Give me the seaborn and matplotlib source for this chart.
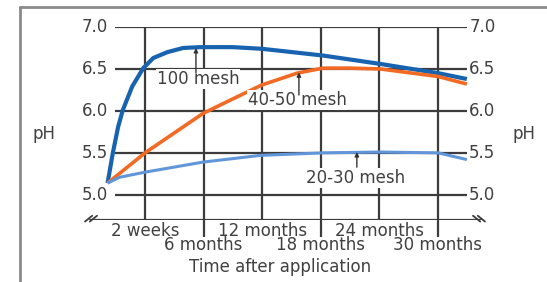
import numpy as np
import pandas as pd
import seaborn as sns
from matplotlib import pyplot as plt
from matplotlib.lines import Line2D
from matplotlib.transforms import blended_transform_factory

# grid positions on the (broken, schematic) time axis
positions = [1, 2, 3, 4, 5, 6]
time_labels = ['2 weeks', '6 months', '12 months', '18 months', '24 months', '30 months']
ph_ticks = [5.0, 5.5, 6.0, 6.5, 7.0]

# curves (x in grid units, y in pH)
mesh100_x = [0.36, 0.45, 0.54, 0.62, 0.78, 0.97, 1.14, 1.38, 1.65, 1.94, 2.5, 3.0, 4.04, 5.02, 6.01, 6.5]
mesh100_y = [5.14, 5.5, 5.81, 6.01, 6.29, 6.51, 6.63, 6.70, 6.75, 6.76, 6.76, 6.74, 6.66, 6.56, 6.45, 6.38]

mesh4050_x = [0.36, 1.0, 1.99, 2.58, 3.0, 3.6, 4.04, 4.49, 5.02, 6.01, 6.5]
mesh4050_y = [5.14, 5.5, 5.97, 6.17, 6.31, 6.45, 6.51, 6.51, 6.50, 6.41, 6.32]

mesh2030_x = [0.36, 0.57, 1.0, 1.99, 2.97, 4.04, 5.02, 6.01, 6.5]
mesh2030_y = [5.14, 5.21, 5.27, 5.39, 5.47, 5.50, 5.51, 5.50, 5.42]

df = pd.concat([
    pd.DataFrame({'t': mesh100_x, 'pH': mesh100_y, 'mesh': '100 mesh'}),
    pd.DataFrame({'t': mesh4050_x, 'pH': mesh4050_y, 'mesh': '40-50 mesh'}),
    pd.DataFrame({'t': mesh2030_x, 'pH': mesh2030_y, 'mesh': '20-30 mesh'}),
])

sns.set_theme(style='white')
plt.rcParams['font.family'] = ['DejaVu Sans']
txt = '#404040'
grid_c = '#3c3c3c'
fs = 12

fig = plt.figure(figsize=(5.47, 2.82), dpi=100)
ax = fig.add_axes([85 / 547, 1 - 220 / 282, 400 / 547, 193 / 282])
ax.set_xlim(-0.026, 6.81)
ax.set_ylim(4.7, 7.0)
sns.despine(ax=ax, left=True, bottom=True)

# grid
for v in ph_ticks:
    ax.plot([0.49, 6.5], [v, v], color=grid_c, lw=1.6, zorder=1, solid_capstyle='butt')
    ax.text(0.37, v, f'{v:.1f}', ha='right', va='center', fontsize=fs, color=txt)
    ax.text(6.54, v, f'{v:.1f}', ha='left', va='center', fontsize=fs, color=txt)
for i, p in enumerate(positions):
    low = 4.5 if i % 2 == 1 else 4.7
    ax.plot([p, p], [low, 7.0], color=grid_c, lw=1.6, zorder=1, clip_on=False,
            solid_capstyle='butt')

# x axis line with break marks
ax.axhline(4.7, xmin=0.012, xmax=0.99, color=grid_c, lw=1.6, zorder=1)
for dx in (0.0, 0.012):
    ax.add_line(Line2D([0.0 + dx, 0.018 + dx], [-0.008, 0.022], transform=ax.transAxes,
                       color=grid_c, lw=1.3, clip_on=False))
    ax.add_line(Line2D([0.97 + dx, 0.988 + dx], [0.022, -0.008], transform=ax.transAxes,
                       color=grid_c, lw=1.3, clip_on=False))

palette = {'100 mesh': '#1763b0', '40-50 mesh': '#f26a23', '20-30 mesh': '#6196da'}
sns.lineplot(data=df, x='t', y='pH', hue='mesh', palette=palette, sort=False,
             estimator=None, legend=False, ax=ax, zorder=3)
for line, w in zip(ax.lines[-3:], [3.0, 2.6, 2.2]):
    line.set_linewidth(w)
    line.set_solid_capstyle('butt')

# x labels in two staggered rows
ax.set_xticks([])
ax.set_yticks([])
trans = blended_transform_factory(ax.transData, ax.transAxes)
for i, (p, lab) in enumerate(zip(positions, time_labels)):
    row_y = -0.057 if i % 2 == 0 else -0.13
    ax.text(p, row_y, lab, transform=trans, ha='center', va='center', fontsize=fs, color=txt)
ax.set_xlabel('')
ax.set_ylabel('')
fig.text(280 / 547, 1 - 267 / 282, 'Time after application', ha='center', va='center',
         fontsize=fs, color=txt)

fig.text(44 / 547, 1 - 134 / 282, 'pH', ha='center', va='center', fontsize=fs, color=txt)
fig.text(524 / 547, 1 - 134 / 282, 'pH', ha='center', va='center', fontsize=fs, color=txt)

# curve labels with pointer arrows
notes = [('100 mesh', 1.91, 6.38, 1.87, 6.45, 6.75),
         ('40-50 mesh', 3.60, 6.13, 3.63, 6.19, 6.46),
         ('20-30 mesh', 4.59, 5.20, 4.62, 5.33, 5.51)]
for label, tx, ty, ax_x, y0, y1 in notes:
    ax.text(tx, ty, label, ha='center', va='center', fontsize=fs, color=txt, zorder=4,
            bbox=dict(boxstyle='square,pad=0.05', fc='white', ec='none'))
    ax.annotate('', xy=(ax_x, y1), xytext=(ax_x, y0), zorder=4,
                arrowprops=dict(arrowstyle='-|>', color='#333333', lw=1.0,
                                mutation_scale=6, shrinkA=0, shrinkB=0))

# outer frame (top and left edges)
fig.add_artist(Line2D([20 / 547, 1.0], [1 - 7 / 282, 1 - 7 / 282], color='#8a8a8a', lw=2))
fig.add_artist(Line2D([20 / 547, 20 / 547], [0.0, 1 - 7 / 282], color='#8a8a8a', lw=2))

fig.savefig('out.png', dpi=100, facecolor='white')
